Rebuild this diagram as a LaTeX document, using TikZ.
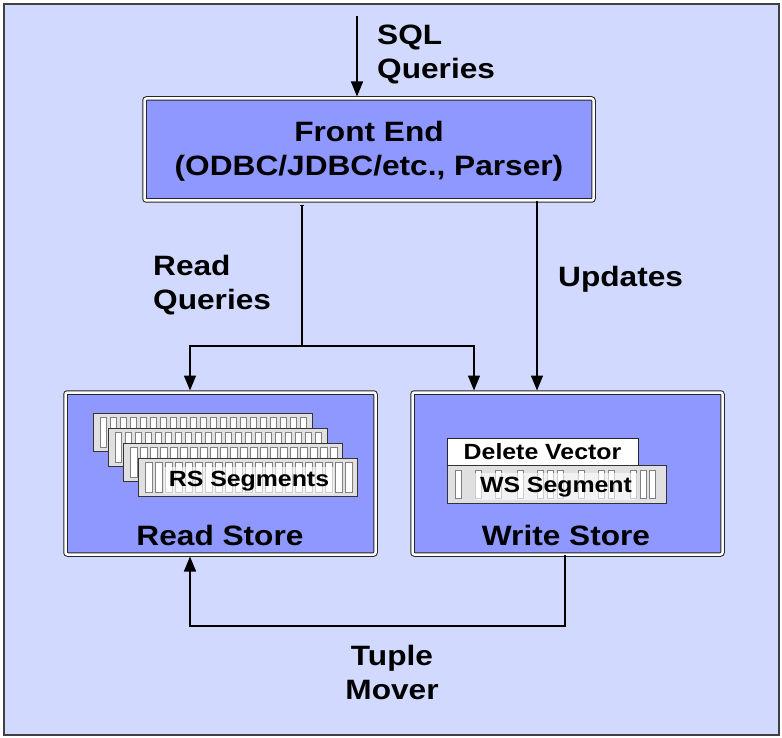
\documentclass[tikz,border=0pt]{standalone}
\usepackage{fontspec}
\setmainfont{Liberation Sans}[FakeStretch=1.13]
\usetikzlibrary{arrows.meta}
\definecolor{bg}{RGB}{210,217,254}
\definecolor{boxblue}{RGB}{142,152,255}
\definecolor{seggray}{RGB}{224,224,224}
\newcommand\twol[3][l]{\begin{tabular}[t]{@{}#1@{}}#2\\#3\end{tabular}}
\tikzset{
  store/.style={draw=black!85, line width=1pt, double=white, double distance=2.5pt,
    fill=boxblue, rounded corners=2pt, inner sep=0pt},
  lbl/.style={font=\bfseries\fontsize{28}{34}\selectfont, inner sep=0pt},
  slbl/.style={font=\bfseries\fontsize{22}{26}\selectfont, inner sep=0pt},
  conn/.style={line width=1.4pt, draw=black},
  arr/.style={conn, -{Triangle[width=12pt,length=15pt]}, shorten >=1.5pt},
  seg/.style={draw=black!80, line width=1pt, fill=seggray},
  cell/.style={draw=black!50, line width=1pt, fill=white},
  overlay/.style={slbl, fill=white, fill opacity=0.6, text opacity=1,
    inner xsep=5pt, inner ysep=3pt, text height=16pt, text depth=5pt}
}
\begin{document}
\begin{tikzpicture}[x=1pt,y={(0,-1pt)}]
\useasboundingbox (0,0) rectangle (782,738);
\draw[fill=bg, draw=black!75, line width=2pt] (4,4) rectangle (779,735);

% boxes
\node[store, minimum width=449, minimum height=102] (fe) at (369,149.5) {};
\node[store, minimum width=310, minimum height=162] (rs) at (220.5,473.5) {};
\node[store, minimum width=310, minimum height=162] (ws) at (567.5,473.5) {};

% labels
\node[lbl, anchor=base west] (sql) at (377,45) {\twol{SQL}{Queries}};
\node[lbl, anchor=base] (fetext) at (369,142) {\twol[c]{Front End}{(ODBC/JDBC/etc., Parser)}};
\node[lbl, anchor=base west] (rq) at (153,276) {\twol{Read}{Queries}};
\node[lbl, anchor=base west] (upd) at (558,287) {Updates};
\node[lbl, anchor=base] (rstext) at (220,545) {Read Store};
\node[lbl, anchor=base] (wstext) at (566,545) {Write Store};
\node[lbl, anchor=base] (tm) at (392,665) {\twol[c]{Tuple}{Mover}};

% RS segments
\foreach \k in {0,1,2,3} {
  \pgfmathsetmacro\sx{93+15.3*\k}
  \pgfmathsetmacro\sy{413+15.3*\k}
  \draw[seg] (\sx,\sy) rectangle ++(219,38);
  \foreach \i in {0,...,20}
    \draw[cell] (\sx+7+10*\i,\sy+4) rectangle ++(6.5,30);
}
\node[overlay, anchor=base] (rsseg) at (249,486) {RS Segments};

% WS segment
\node[draw=black!85, line width=1pt, fill=white, minimum width=191, minimum height=27,
  inner sep=0pt, text height=15pt, text depth=0pt, slbl] (dv) at (542.5,451.5) {Delete Vector};
\draw[seg] (447,465) rectangle (666,503);
\foreach \x in {455,475,495,517,537,547,557,578,598,608,630,640,649}
  \draw[cell] (\x,470) rectangle ++(6.5,28);
\node[overlay, anchor=base] (wsseg) at (556,492) {WS Segment};

% connectors
\coordinate (sqltop) at (357,16);
\draw[arr] (sqltop) -- (sqltop |- fe.north);

\coordinate (split) at (302,346);
\coordinate (rsin) at (190,346);
\coordinate (wsin) at (474,346);
\draw[conn, {Bar[width=4pt]}-, shorten <=4pt] (split |- fe.south) -- (split);
\draw[arr] (split) -- (rsin) -- (rsin |- rs.north);
\draw[arr] (split) -- (wsin) -- (wsin |- ws.north);

\coordinate (up) at (537,0);
\draw[arr] (up |- fe.south) -- (up |- ws.north);

\coordinate (tmr) at (565,626);
\coordinate (tml) at (190,626);
\draw[arr] (tmr |- ws.south) -- (tmr) -- (tml) -- (tml |- rs.south);
\end{tikzpicture}
\end{document}
